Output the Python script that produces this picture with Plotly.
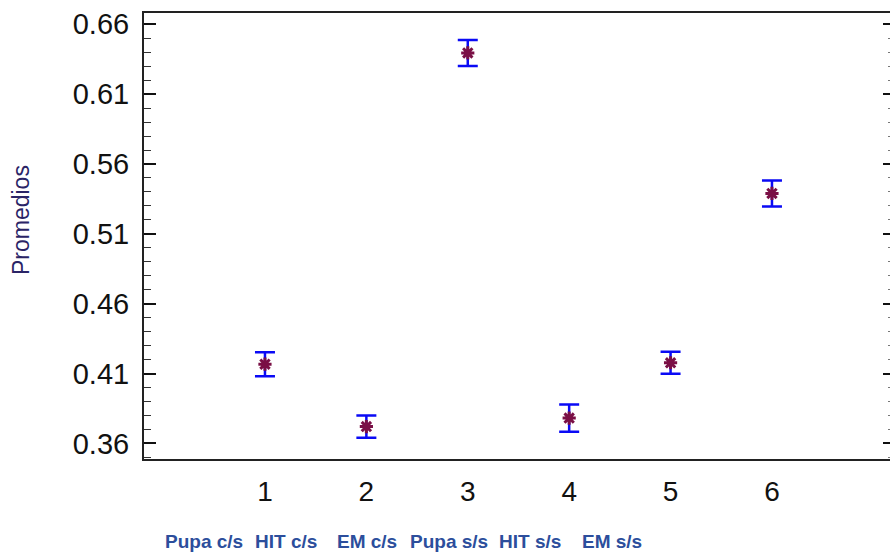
import plotly.graph_objects as go

# Group means with their confidence half-widths
grupos = [1, 2, 3, 4, 5, 6]
promedios = [0.4167, 0.3720, 0.6395, 0.3781, 0.4177, 0.5389]
semi_intervalo = [0.0086, 0.0080, 0.0093, 0.0098, 0.0079, 0.0093]
nombres = ["Pupa c/s", "HIT c/s", "EM c/s", "Pupa s/s", "HIT s/s", "EM s/s"]
y_ticks = [0.36, 0.41, 0.46, 0.51, 0.56, 0.61, 0.66]

SANS = "Liberation Sans, Arial, sans-serif"

fig = go.Figure()
fig.add_trace(go.Scatter(
    x=grupos, y=promedios, mode="markers",
    marker=dict(symbol="asterisk-open", size=11, color="#7A0F45",
                line=dict(color="#7A0F45", width=3)),
    error_y=dict(type="data", array=semi_intervalo, visible=True,
                 color="#0A0AF5", thickness=2.5, width=10),
    showlegend=False,
))
# invisible twin used only to carry the right-hand tick marks
fig.add_trace(go.Scatter(x=grupos, y=promedios, yaxis="y2", mode="markers",
                         marker=dict(opacity=0), showlegend=False,
                         hoverinfo="skip"))

fig.update_layout(
    width=890, height=556,
    margin=dict(l=144, r=0, t=13, b=97),
    plot_bgcolor="white", paper_bgcolor="white",
    xaxis=dict(range=[-0.193, 7.164], tickvals=grupos,
               ticktext=[str(g) for g in grupos], ticks="",
               showline=True, mirror=True, linecolor="#222222", linewidth=2,
               showgrid=False, zeroline=False, ticklabelstandoff=6,
               tickfont=dict(family=SANS, size=28, color="#111111")),
    yaxis=dict(range=[0.3488, 0.6681], tickvals=y_ticks,
               tickformat=".2f", ticks="inside", ticklen=12, tickwidth=2,
               tickcolor="#111111",
               minor=dict(dtick=0.01, ticks="inside", ticklen=7,
                          tickwidth=1, tickcolor="#333333"),
               showline=True, mirror=False, linecolor="#222222", linewidth=2,
               showgrid=False, zeroline=False, ticklabelstandoff=7,
               tickfont=dict(family=SANS, size=29, color="#111111")),
    yaxis2=dict(range=[0.3488, 0.6681], overlaying="y", side="right",
                tickvals=y_ticks, showticklabels=False,
                ticks="inside", ticklen=7, tickwidth=2, tickcolor="#111111",
                minor=dict(dtick=0.01, ticks="inside", ticklen=2,
                           tickwidth=1, tickcolor="#777777"),
                showline=False, showgrid=False, zeroline=False),
)

# y-axis title
fig.add_annotation(text="Promedios", xref="paper", yref="paper",
                   x=-0.164, y=0.535, xanchor="center", yanchor="middle",
                   textangle=-90, showarrow=False,
                   font=dict(family=SANS, size=23, color="#2A2466"))

# group names along the bottom
x0, paso = 204, 81.5
for i, nombre in enumerate(nombres):
    fig.add_annotation(text=nombre, xref="paper", yref="paper",
                       x=(x0 + i * paso - 144) / 746, y=-0.185,
                       xanchor="center", yanchor="middle", showarrow=False,
                       font=dict(family=SANS, size=19, color="#2C4E9C",
                                 weight="bold"))

fig.write_html("out.html")
